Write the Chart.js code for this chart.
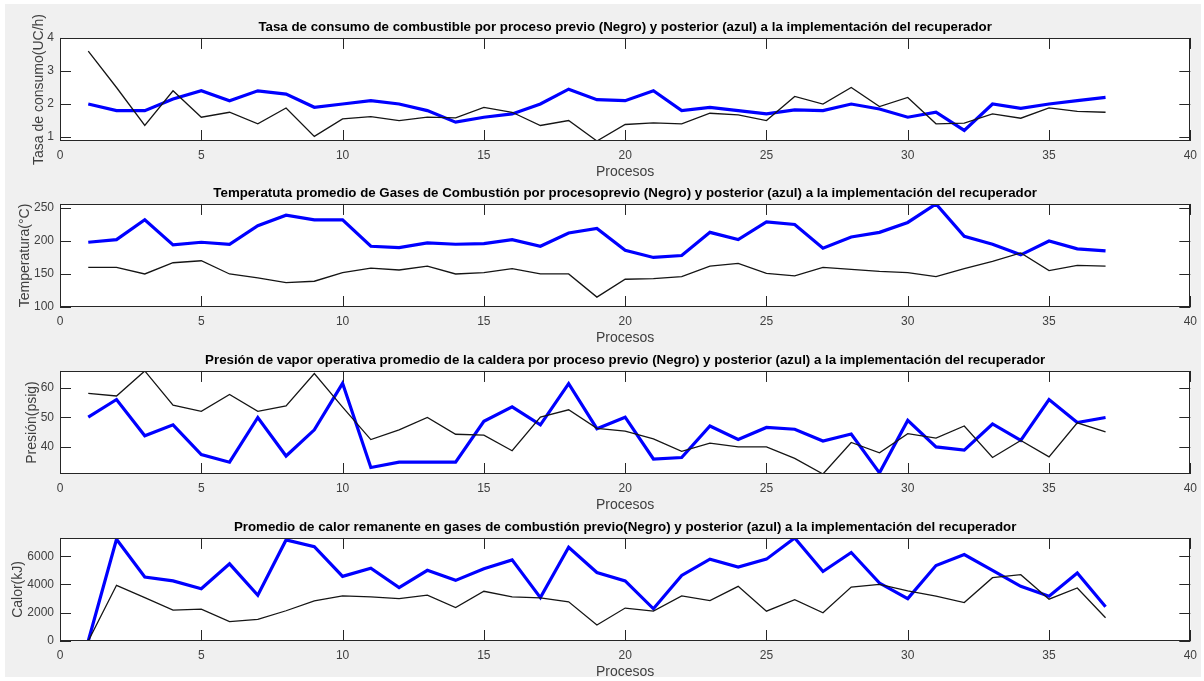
<!DOCTYPE html>
<html>
<head>
<meta charset="utf-8">
<script src="https://cdn.jsdelivr.net/npm/chart.js@4.4.0/dist/chart.umd.min.js"></script>
<style>
  html, body { margin: 0; padding: 0; background: #ffffff; }
  body { width: 1204px; height: 681px; position: relative; overflow: hidden; }
  #fondo { position: absolute; left: 5px; top: 4px; width: 1196px; height: 673px; background: #f0f0f0; }
  canvas { position: absolute; left: 0; }
</style>
</head>
<body>
<div id="fondo"></div>
<canvas id="consumo"></canvas>
<canvas id="temperatura"></canvas>
<canvas id="presion"></canvas>
<canvas id="calor"></canvas>
<script>
const procesos = [1, 2, 3, 4, 5, 6, 7, 8, 9, 10, 11, 12, 13, 14, 15, 16, 17, 18, 19, 20,
    21, 22, 23, 24, 25, 26, 27, 28, 29, 30, 31, 32, 33, 34, 35, 36, 37];
const xTicks = [0, 5, 10, 15, 20, 25, 30, 35, 40];

// tasa de consumo (UC/h)
const consumoPrevio = [3.6, 2.5, 1.35, 2.4, 1.6, 1.75, 1.4, 1.88, 1.02, 1.55, 1.62, 1.5, 1.6, 1.58, 1.9, 1.75, 1.35, 1.5, 0.88,
    1.38, 1.43, 1.4, 1.72, 1.67, 1.5, 2.23, 2.0, 2.5, 1.92, 2.2, 1.4, 1.42, 1.7, 1.57, 1.88, 1.78, 1.75];
const consumoPosterior = [2.0, 1.8, 1.8, 2.15, 2.4, 2.1, 2.4, 2.3, 1.9, 2.0, 2.1, 2.0, 1.8, 1.45, 1.6, 1.7, 2.0, 2.45, 2.13,
    2.1, 2.4, 1.8, 1.9, 1.8, 1.7, 1.82, 1.8, 2.0, 1.85, 1.6, 1.75, 1.2, 2.0, 1.87, 2.0, 2.1, 2.2];
const consumoTicks = [1, 2, 3, 4];
const consumoLimites = [0.88, 4];

// temperatura gases (°C)
const temperaturaPrevio = [160, 160, 150, 167, 170, 150, 144, 137, 139, 152, 159, 156, 162, 150, 152, 158, 150, 150, 115,
    142, 143, 146, 162, 166, 151, 147, 160, 157, 154, 152, 146, 158, 169, 182, 155, 163, 162];
const temperaturaPosterior = [198, 202, 232, 194, 198, 195, 223, 239, 232, 232, 192, 190, 197, 195, 196, 202, 192, 212, 219,
    186, 175, 178, 213, 202, 229, 225, 189, 206, 213, 228, 256, 207, 195, 179, 200, 188, 185];
const temperaturaTicks = [100, 150, 200, 250];
const temperaturaLimites = [100, 256];

// presion de vapor (psig)
const presionPrevio = [58.2, 57.3, 65.8, 54.2, 52.1, 57.8, 52.1, 53.9, 64.9, 53.5, 42.5, 45.8, 50, 44.3, 44, 38.7, 50.1, 52.6, 46.3,
    45.4, 42.7, 38.5, 41.3, 40, 40, 36.1, 30.8, 41.5, 38, 44.5, 43, 47.1, 36.4, 42.2, 36.6, 48.2, 45.1];
const presionPosterior = [50.1, 56.1, 43.8, 47.5, 37.4, 34.8, 50, 36.9, 45.8, 61.6, 33, 34.8, 34.8, 34.8, 48.7, 53.6, 47.5, 61.5, 46.2,
    50.1, 35.9, 36.4, 47.1, 42.5, 46.6, 46, 42, 44.4, 31.2, 49, 40, 38.9, 47.8, 42.2, 56.1, 48.3, 50];
const presionTicks = [40, 50, 60];
const presionLimites = [30.8, 65.8];

// calor remanente (kJ)
const calorPrevio = [0, 3940, 3070, 2190, 2260, 1370, 1530, 2140, 2840, 3190, 3120, 3000, 3240, 2370, 3520, 3120, 3050, 2770, 1130,
    2330, 2110, 3190, 2860, 3870, 2110, 2930, 2000, 3820, 4010, 3540, 3170, 2720, 4480, 4690, 2960, 3750, 1650];
const calorPosterior = [0, 7200, 4530, 4250, 3700, 5460, 3240, 7150, 6680, 4570, 5150, 3780, 5000, 4290, 5110, 5740, 3070, 6630, 4850,
    4250, 2280, 4640, 5790, 5230, 5790, 7290, 4920, 6260, 4100, 3000, 5340, 6120, 5000, 3870, 3170, 4810, 2420];
const calorTicks = [0, 2000, 4000, 6000];
const calorLimites = [0, 7290];

const fuente = "'Liberation Sans', Arial, sans-serif";
const grisEje = '#262626';
const grisTexto = '#404040';

const marcoMatlab = {
    id: 'marcoMatlab',
    beforeDatasetsDraw(chart) {
        const { ctx, chartArea: a } = chart;
        ctx.save();
        ctx.fillStyle = '#ffffff';
        ctx.fillRect(a.left, a.top, a.right - a.left, a.bottom - a.top);
        ctx.restore();
    },
    afterDatasetsDraw(chart) {
        const { ctx, chartArea: a, scales } = chart;
        const largo = 11;
        ctx.save();
        ctx.strokeStyle = grisEje;
        ctx.lineWidth = 1;
        ctx.beginPath();
        scales.x.ticks.forEach(t => {
            const px = Math.round(scales.x.getPixelForValue(t.value)) + 0.5;
            ctx.moveTo(px, a.bottom); ctx.lineTo(px, a.bottom - largo);
            ctx.moveTo(px, a.top); ctx.lineTo(px, a.top + largo);
        });
        scales.y.ticks.forEach(t => {
            const py = Math.round(scales.y.getPixelForValue(t.value)) + 0.5;
            ctx.moveTo(a.left, py); ctx.lineTo(a.left + largo, py);
            ctx.moveTo(a.right, py); ctx.lineTo(a.right - largo, py);
        });
        ctx.stroke();
        ctx.strokeRect(Math.round(a.left) + 0.5, Math.round(a.top) + 0.5,
            Math.round(a.right - a.left) - 1, Math.round(a.bottom - a.top) - 1);
        ctx.restore();
    }
};

function crearPanel(id, boxTop, padL, titulo, etiquetaY, previo, posterior, limites, yTicks) {
    const canvas = document.getElementById(id);
    canvas.width = 1204;
    canvas.height = 175;
    canvas.style.top = (boxTop - 30) + 'px';

    return new Chart(canvas, {
        type: 'line',
        data: {
            datasets: [{
                label: 'Previo (Negro)',
                data: procesos.map((p, i) => ({ x: p, y: previo[i] })),
                borderColor: '#151515',
                borderWidth: 1.3,
                pointRadius: 0,
                tension: 0
            }, {
                label: 'Posterior (azul)',
                data: procesos.map((p, i) => ({ x: p, y: posterior[i] })),
                borderColor: '#0000ff',
                borderWidth: 3.2,
                pointRadius: 0,
                tension: 0
            }]
        },
        options: {
            responsive: false,
            animation: false,
            devicePixelRatio: 1,
            layout: { padding: { left: padL, right: 12, top: 0, bottom: 2 } },
            plugins: {
                legend: { display: false },
                tooltip: { enabled: false },
                title: {
                    display: true,
                    text: titulo,
                    fullSize: false,
                    color: '#000000',
                    font: { family: fuente, size: 13.3, weight: 'bold' },
                    padding: { top: 11, bottom: 3 }
                }
            },
            scales: {
                x: {
                    type: 'linear',
                    min: 0,
                    max: 40,
                    grid: { display: false, drawTicks: false },
                    border: { display: false },
                    afterBuildTicks: s => { s.ticks = xTicks.map(v => ({ value: v })); },
                    afterFit: s => { s.height = 40; },
                    ticks: {
                        padding: 7,
                        maxRotation: 0,
                        color: grisTexto,
                        font: { family: fuente, size: 12 }
                    },
                    title: {
                        display: true,
                        text: 'Procesos',
                        padding: { top: 0, bottom: 0 },
                        color: grisTexto,
                        font: { family: fuente, size: 14 }
                    }
                },
                y: {
                    type: 'linear',
                    min: limites[0],
                    max: limites[1],
                    grid: { display: false, drawTicks: false },
                    border: { display: false },
                    afterBuildTicks: s => { s.ticks = yTicks.map(v => ({ value: v })); },
                    afterFit: s => { s.width = 60 - padL; },
                    ticks: {
                        padding: 6,
                        color: grisTexto,
                        font: { family: fuente, size: 12 },
                        callback: v => String(v)
                    },
                    title: {
                        display: true,
                        text: etiquetaY,
                        padding: { top: 0, bottom: 0 },
                        color: grisTexto,
                        font: { family: fuente, size: 14 }
                    }
                }
            }
        },
        plugins: [marcoMatlab]
    });
}

crearPanel('consumo', 38, 31,
    'Tasa de consumo de combustible por proceso previo (Negro) y posterior (azul) a la implementación del recuperador',
    'Tasa de consumo(UC/h)', consumoPrevio, consumoPosterior, consumoLimites, consumoTicks);

crearPanel('temperatura', 204, 17,
    'Temperatuta promedio de Gases de Combustión por procesoprevio (Negro) y posterior (azul) a la implementación del recuperador',
    'Temperatura(°C)', temperaturaPrevio, temperaturaPosterior, temperaturaLimites, temperaturaTicks);

crearPanel('presion', 371, 24,
    'Presión de vapor operativa promedio de la caldera por proceso previo (Negro) y posterior (azul) a la implementación del recuperador',
    'Presión(psig)', presionPrevio, presionPosterior, presionLimites, presionTicks);

crearPanel('calor', 538, 10,
    'Promedio de calor remanente en gases de combustión previo(Negro) y posterior (azul) a la implementación del recuperador',
    'Calor(kJ)', calorPrevio, calorPosterior, calorLimites, calorTicks);
</script>
</body>
</html>
